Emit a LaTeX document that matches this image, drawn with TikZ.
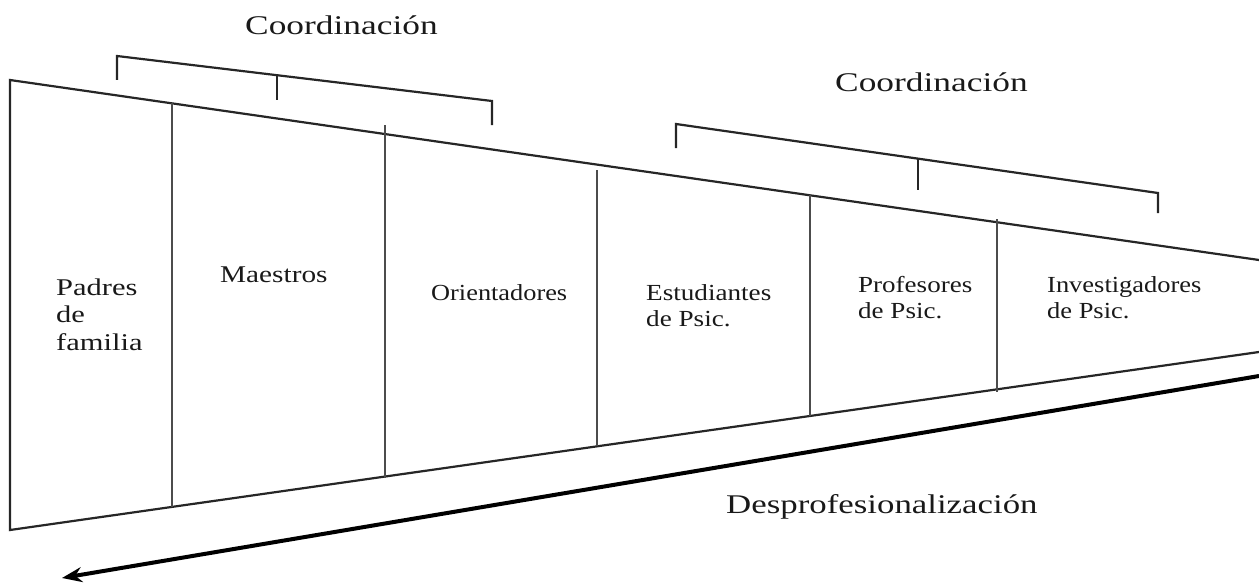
\documentclass[tikz,border=0pt]{standalone}
\usepackage{fontspec}
\setmainfont{Liberation Serif}
\usetikzlibrary{arrows.meta}
\newcommand{\xs}[2]{\scalebox{#1}[1]{\begin{tabular}[t]{@{}l@{}}#2\end{tabular}}}
\begin{document}
\begin{tikzpicture}[x=1pt,y=-1pt,
  edge/.style={draw=black!85, line width=2.2pt},
  divider/.style={draw=black!70, line width=2.8pt},
  bracket/.style={draw=black!85, line width=2.2pt},
  bigcell/.style={anchor=base west, inner sep=0pt, text=black!90, font=\fontsize{24}{27.5}\selectfont},
  celltext/.style={anchor=base west, inner sep=0pt, text=black!90, font=\fontsize{23}{26.5}\selectfont},
  titletext/.style={anchor=base west, inner sep=0pt, text=black!90, font=\fontsize{27}{32}\selectfont},
  arrowline/.style={draw=black, line width=4pt, -{Stealth[length=20pt,width=15pt]}}
]
\useasboundingbox (0,0) rectangle (1259,586);
% trapezoid
\coordinate (TL) at (10,80);
\coordinate (BL) at (10,530);
\coordinate (TR) at (1259,260);
\coordinate (BR) at (1259,352);
\draw[edge, line join=miter] (TR) -- (TL) -- (BL) -- (BR);
% dividers
\coordinate (d1t) at (172,103); \coordinate (d1b) at (172,507);
\coordinate (d2t) at (385,125); \coordinate (d2b) at (385,478);
\coordinate (d3t) at (597,170); \coordinate (d3b) at (597,446);
\coordinate (d4t) at (810,195); \coordinate (d4b) at (810,416);
\coordinate (d5t) at (997,219); \coordinate (d5b) at (997,392);
\draw[divider] (d1t) -- (d1b);
\draw[divider] (d2t) -- (d2b);
\draw[divider] (d3t) -- (d3b);
\draw[divider] (d4t) -- (d4b);
\draw[divider] (d5t) -- (d5b);
% brackets
\coordinate (b1a) at (117,80);  \coordinate (b1b) at (117,56);
\coordinate (b1c) at (492,101); \coordinate (b1d) at (492,125);
\coordinate (b1m) at (277,75);  \coordinate (b1n) at (277,100);
\draw[bracket, line join=miter] (b1a) -- (b1b) -- (b1c) -- (b1d);
\draw[bracket] (b1m) -- (b1n);
\coordinate (b2a) at (676,148);  \coordinate (b2b) at (676,124);
\coordinate (b2c) at (1158,193); \coordinate (b2d) at (1158,213);
\coordinate (b2m) at (918,158.5); \coordinate (b2n) at (918,190);
\draw[bracket, line join=miter] (b2a) -- (b2b) -- (b2c) -- (b2d);
\draw[bracket] (b2m) -- (b2n);
% arrow
\coordinate (AS) at (1259,376);
\coordinate (AE) at (62,578);
\draw[arrowline] (AS) -- (AE);
% texts
\node[titletext] (coord1) at (245,35) {\xs{1.31}{Coordinación}};
\node[titletext] (coord2) at (835,92) {\xs{1.31}{Coordinación}};
\node[titletext] (desp) at (726,513) {\xs{1.29}{Desprofesionalización}};
\node[bigcell] (padres) at (56,295) {\xs{1.27}{Padres\\de\\familia}};
\node[bigcell] (maestros) at (220,282) {\xs{1.22}{Maestros}};
\node[celltext] (orient) at (431,300) {\xs{1.145}{Orientadores}};
\node[celltext] (estud) at (646,300) {\xs{1.18}{Estudiantes\\de Psic.}};
\node[celltext] (profes) at (858,292) {\xs{1.175}{Profesores\\de Psic.}};
\node[celltext] (invest) at (1047,292) {\xs{1.15}{Investigadores\\de Psic.}};
\end{tikzpicture}
\end{document}
